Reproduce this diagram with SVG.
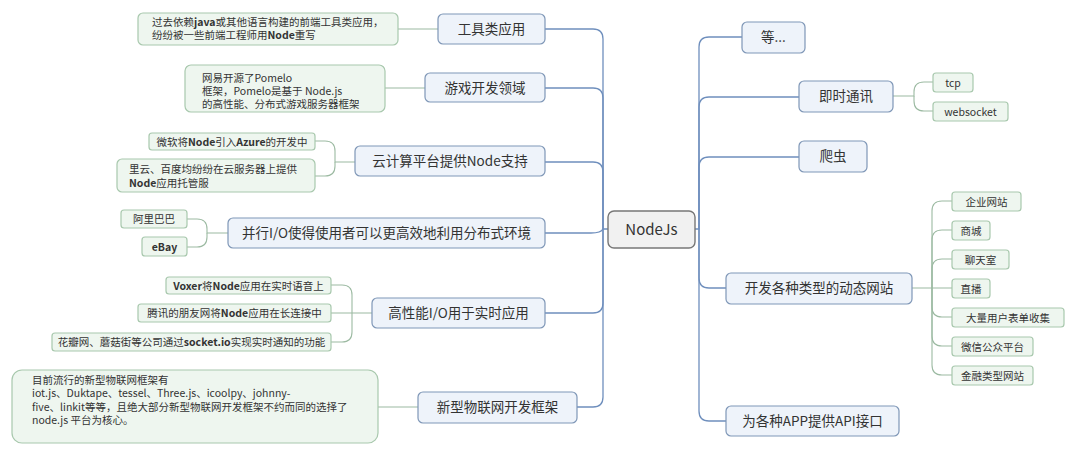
<svg xmlns="http://www.w3.org/2000/svg" width="1072" height="450" viewBox="0 0 1072 450">
<style>
text{font-family:"Noto Sans CJK SC","Noto Sans",sans-serif;fill:#333;}
.main rect{fill:#eef3fa;stroke:#7f97b7;stroke-width:1.2;}
.main text{font-size:13.5px;text-anchor:middle;}
.root rect{fill:#f1f1f1;stroke:#777;stroke-width:1.4;}
.root text{font-size:15px;text-anchor:middle;}
.leaf rect{fill:#eef6ef;stroke:#a8c8ad;stroke-width:1.2;}
.leaf text{font-size:10.5px;text-anchor:middle;}
.leaf text.l{text-anchor:start;}
.b{font-weight:bold;}
.conn path{fill:none;stroke:#6f8fbd;stroke-width:1.3;}
.conn path.g{stroke:#9cbaa2;stroke-width:1.1;}
</style>
<rect width="1072" height="450" fill="#fff"/>
<g class="conn" id="connectors">
<path d="M608,229 H603 V39 Q603,29 593,29 H545"/>
<path d="M603,229 V98 Q603,88 593,88 H545"/>
<path d="M603,229 V172 Q603,162 593,162 H545"/>
<path d="M603,229 Q601,233 591,233 H545"/>
<path d="M603,229 V303 Q603,313 593,313 H545"/>
<path d="M603,229 V397 Q603,407 593,407 H577"/>
<path d="M695,229 H699 V47 Q699,37 709,37 H742"/>
<path d="M699,229 V107 Q699,97 709,97 H799"/>
<path d="M699,229 V167 Q699,157 709,157 H799"/>
<path d="M699,229 V278 Q699,288 709,288 H726"/>
<path d="M699,229 V411 Q699,421 709,421 H726"/>
<path class="g" d="M398,29 H438"/>
<path class="g" d="M385,88 H425"/>
<path class="g" d="M355,162 H335 V151 Q335,141 325,141 H315"/>
<path class="g" d="M335,162 V166 Q335,176 325,176 H315"/>
<path class="g" d="M228,233 H207 V229 Q207,219 197,219 H187"/>
<path class="g" d="M207,233 V237 Q207,247 197,247 H187"/>
<path class="g" d="M372,313 H331"/>
<path class="g" d="M352,313 V295 Q352,285 342,285 H331"/>
<path class="g" d="M352,313 V332 Q352,342 342,342 H331"/>
<path class="g" d="M378,407 H418"/>
<path class="g" d="M893,96 H914 V92 Q914,82 924,82 H933"/>
<path class="g" d="M914,96 V101 Q914,111 924,111 H933"/>
<path class="g" d="M912,288 H952"/>
<path class="g" d="M932,288 V211 Q932,201 942,201 H952"/>
<path class="g" d="M932,288 V240 Q932,230 942,230 H952"/>
<path class="g" d="M932,288 V269 Q932,259 942,259 H952"/>
<path class="g" d="M932,288 V307 Q932,317 942,317 H952"/>
<path class="g" d="M932,288 V336 Q932,346 942,346 H952"/>
<path class="g" d="M932,288 V365 Q932,375 942,375 H952"/>
</g>
<g id="root" class="root"><rect x="608" y="211" width="87" height="37" rx="6"/><text x="651.5" y="234.5">NodeJs</text></g>
<g id="tools" class="main"><rect x="438" y="14" width="107" height="30" rx="5"/><text x="491.5" y="34">工具类应用</text></g>
<g id="game" class="main"><rect x="425" y="73" width="120" height="29" rx="5"/><text x="485" y="92.5">游戏开发领域</text></g>
<g id="cloud" class="main"><rect x="355" y="146" width="190" height="30" rx="5"/><text x="450" y="166">云计算平台提供Node支持</text></g>
<g id="parallel" class="main"><rect x="228" y="218" width="317" height="30" rx="5"/><text x="386.5" y="238">并行I/O使得使用者可以更高效地利用分布式环境</text></g>
<g id="realtime" class="main"><rect x="372" y="298" width="173" height="30" rx="5"/><text x="458.5" y="318">高性能I/O用于实时应用</text></g>
<g id="iot" class="main"><rect x="418" y="392" width="159" height="31" rx="5"/><text x="497.5" y="412">新型物联网开发框架</text></g>
<g id="etc" class="main"><rect x="742" y="22" width="63" height="31" rx="5"/><text x="773.5" y="42">等...</text></g>
<g id="im" class="main"><rect x="799" y="81" width="94" height="31" rx="5"/><text x="846" y="101">即时通讯</text></g>
<g id="crawler" class="main"><rect x="799" y="141" width="68" height="31" rx="5"/><text x="833" y="161">爬虫</text></g>
<g id="web" class="main"><rect x="726" y="273" width="186" height="31" rx="5"/><text x="819" y="293">开发各种类型的动态网站</text></g>
<g id="api" class="main"><rect x="726" y="406" width="173" height="30" rx="5"/><text x="812.5" y="426">为各种APP提供API接口</text></g>
<g id="leaf-tools" class="leaf"><rect x="138" y="13" width="260" height="32" rx="5"/><text class="l" x="152" y="26" font-size="10">过去依赖<tspan class="b">java</tspan>或其他语言构建的前端工具类应用，</text><text class="l" x="152" y="39" font-size="10">纷纷被一些前端工程师用<tspan class="b">Node</tspan>重写</text></g>
<g id="leaf-game" class="leaf"><rect x="185" y="65" width="200" height="47" rx="6"/><text class="l" x="202" y="81.5" font-size="10">网易开源了Pomelo</text><text class="l" x="202" y="94.5" font-size="10">框架，Pomelo是基于 Node.js</text><text class="l" x="202" y="107.5" font-size="10">的高性能、分布式游戏服务器框架</text></g>
<g id="leaf-azure" class="leaf"><rect x="149" y="133" width="166" height="17" rx="3"/><text x="232" y="145.5" font-size="10">微软将<tspan class="b">Node</tspan>引入<tspan class="b">Azure</tspan>的开发中</text></g>
<g id="leaf-aliyun" class="leaf"><rect x="117" y="159" width="198" height="33" rx="5"/><text class="l" x="129" y="173">里云、百度均纷纷在云服务器上提供</text><text class="l" x="129" y="187"><tspan class="b">Node</tspan>应用托管服</text></g>
<g id="leaf-alibaba" class="leaf"><rect x="121" y="210" width="66" height="18" rx="3"/><text x="154" y="223">阿里巴巴</text></g>
<g id="leaf-ebay" class="leaf"><rect x="142" y="237" width="45" height="19" rx="3"/><text x="164.5" y="250.5" class="b" font-size="9.5">eBay</text></g>
<g id="leaf-voxer" class="leaf"><rect x="166" y="277" width="165" height="17" rx="3"/><text x="248.5" y="289.5" font-size="10"><tspan class="b">Voxer</tspan>将<tspan class="b">Node</tspan>应用在实时语音上</text></g>
<g id="leaf-tencent" class="leaf"><rect x="138" y="304" width="193" height="18" rx="3"/><text x="234.5" y="317" font-size="10">腾讯的朋友网将<tspan class="b">Node</tspan>应用在长连接中</text></g>
<g id="leaf-huaban" class="leaf"><rect x="52" y="333" width="279" height="18" rx="3"/><text x="191.5" y="346" font-size="10">花瓣网、蘑菇街等公司通过<tspan class="b">socket.io</tspan>实现实时通知的功能</text></g>
<g id="leaf-iot" class="leaf"><rect x="12" y="370" width="366" height="73" rx="10"/><text class="l" x="32" y="384">目前流行的新型物联网框架有</text><text class="l" x="32" y="397">iot.js、Duktape、tessel、Three.js、icoolpy、johnny-</text><text class="l" x="32" y="411">five、linkit等等，且绝大部分新型物联网开发框架不约而同的选择了</text><text class="l" x="32" y="424">node.js 平台为核心。</text></g>
<g id="leaf-tcp" class="leaf"><rect x="933" y="73" width="40" height="19" rx="3"/><text x="953" y="86.5">tcp</text></g>
<g id="leaf-websocket" class="leaf"><rect x="933" y="102" width="75" height="19" rx="3"/><text x="970.5" y="115.5">websocket</text></g>
<g id="leaf-corp" class="leaf"><rect x="952" y="192" width="69" height="19" rx="3"/><text x="986.5" y="205.5">企业网站</text></g>
<g id="leaf-mall" class="leaf"><rect x="952" y="221" width="38" height="19" rx="3"/><text x="971" y="234.5">商城</text></g>
<g id="leaf-chat" class="leaf"><rect x="952" y="250" width="57" height="19" rx="3"/><text x="980.5" y="263.5">聊天室</text></g>
<g id="leaf-live" class="leaf"><rect x="952" y="279" width="38" height="19" rx="3"/><text x="971" y="292.5">直播</text></g>
<g id="leaf-form" class="leaf"><rect x="952" y="308" width="112" height="19" rx="3"/><text x="1008" y="321.5">大量用户表单收集</text></g>
<g id="leaf-wechat" class="leaf"><rect x="952" y="337" width="81" height="19" rx="3"/><text x="992.5" y="350.5">微信公众平台</text></g>
<g id="leaf-finance" class="leaf"><rect x="952" y="366" width="81" height="19" rx="3"/><text x="992.5" y="379.5">金融类型网站</text></g>
</svg>
